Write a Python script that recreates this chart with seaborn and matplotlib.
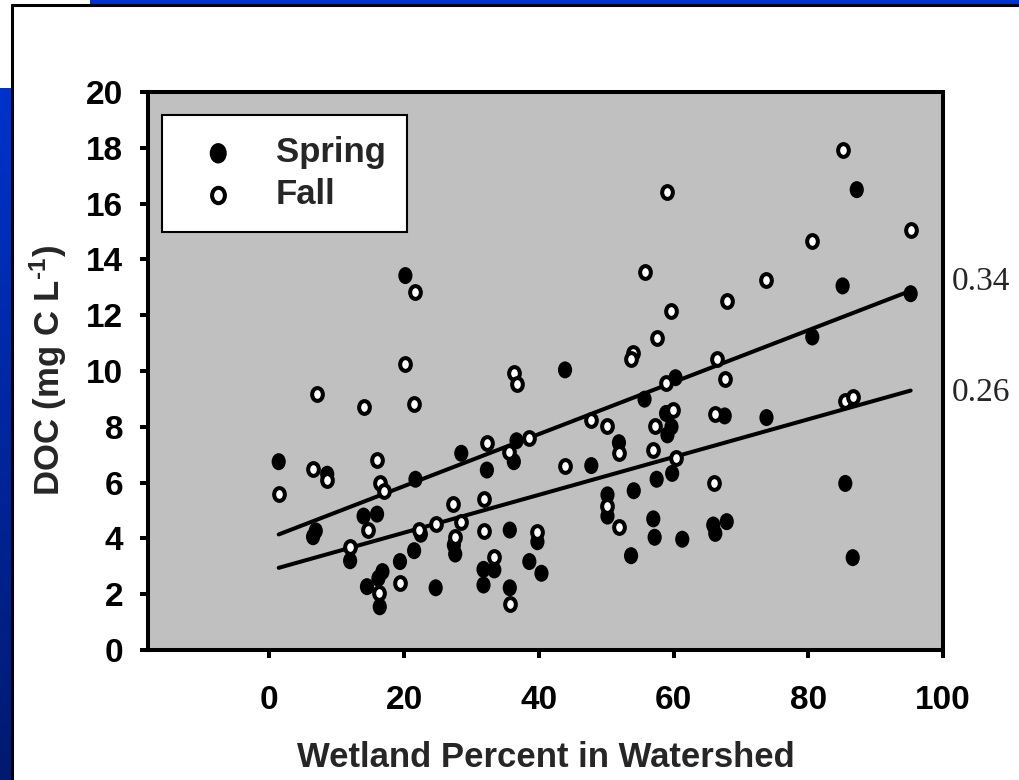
import numpy as np
import pandas as pd
import matplotlib
matplotlib.use("Agg")
import matplotlib.pyplot as plt
import seaborn as sns
from matplotlib.path import Path
from matplotlib.patches import Rectangle
from matplotlib.lines import Line2D
from matplotlib.colors import LinearSegmentedColormap

# ---------------- data ----------------
spring_x = [1.4, 8.6, 6.9, 6.5, 21.7, 14.0, 16.0, 12.0, 21.5, 19.4, 16.8, 16.2, 14.5, 16.4,
            20.2, 43.9, 60.3, 55.7, 58.9, 59.7, 59.1, 51.9, 57.5, 59.8, 47.8, 54.1, 50.2, 50.2,
            57.0, 57.2, 53.7, 61.3, 36.7, 36.3, 28.5, 32.3, 22.5, 27.4, 27.6, 35.7, 39.8, 31.8,
            33.4, 38.6, 40.4, 31.8, 24.7, 35.7, 87.2, 85.1, 95.2, 80.6, 67.6, 73.8, 85.5, 65.9,
            67.9, 66.2, 86.6]
spring_y = [6.75, 6.30, 4.27, 4.06, 6.12, 4.80, 4.87, 3.20, 3.56, 3.17, 2.81, 2.57, 2.27, 1.55,
            13.42, 10.04, 9.76, 8.99, 8.48, 8.00, 7.71, 7.43, 6.12, 6.33, 6.61, 5.71, 5.56, 4.80,
            4.70, 4.04, 3.38, 3.97, 7.50, 6.75, 7.05, 6.45, 4.15, 3.76, 3.44, 4.30, 3.88, 2.89,
            2.87, 3.17, 2.75, 2.33, 2.23, 2.23, 16.50, 13.05, 12.77, 11.22, 8.39, 8.33, 5.97, 4.48,
            4.60, 4.18, 3.31]

fall_x = [21.7, 20.2, 7.1, 14.0, 21.5, 1.4, 6.5, 8.6, 16.0, 16.4, 17.0, 14.6, 12.0, 22.2,
          19.4, 16.3, 59.1, 55.7, 59.7, 57.5, 54.0, 53.7, 36.3, 36.8, 58.9, 59.9, 57.3, 47.8,
          50.2, 51.9, 57.0, 60.3, 43.9, 50.2, 51.9, 38.6, 32.3, 35.6, 27.2, 31.8, 24.7, 28.5,
          27.6, 31.8, 39.8, 33.4, 35.7, 85.1, 95.2, 80.6, 73.8, 67.9, 66.5, 67.6, 66.2, 85.5,
          86.7, 66.0]
fall_y = [12.84, 10.25, 9.18, 8.72, 8.80, 5.59, 6.49, 6.09, 6.81, 5.97, 5.70, 4.30, 3.70, 4.30,
          2.39, 2.03, 16.43, 13.56, 12.15, 11.19, 10.66, 10.43, 9.92, 9.52, 9.56, 8.60, 8.04, 8.24,
          8.03, 7.07, 7.17, 6.89, 6.61, 5.16, 4.42, 7.61, 7.41, 7.11, 5.23, 5.40, 4.52, 4.60,
          4.06, 4.28, 4.24, 3.32, 1.65, 17.93, 15.06, 14.66, 13.27, 12.51, 10.42, 9.70, 8.46, 8.92,
          9.06, 5.97]

series_names = ["Spring", "Fall"]
r2_labels = ["0.34", "0.26"]
x_ticks = [0, 20, 40, 60, 80, 100]
y_ticks = list(range(0, 21, 2))
x_label = "Wetland Percent in Watershed"
y_label = r"DOC (mg C L$^{\text{-1}}$)"

spring = pd.DataFrame({"x": spring_x, "y": spring_y})
fall = pd.DataFrame({"x": fall_x, "y": fall_y})

# ---------------- style ----------------
sns.set_style("ticks")
plt.rcParams["font.family"] = ["Liberation Sans", "DejaVu Sans"]
plt.rcParams["font.weight"] = "bold"
plt.rcParams["mathtext.fontset"] = "custom"
plt.rcParams["mathtext.rm"] = "Liberation Sans:bold"
plt.rcParams["mathtext.bf"] = "Liberation Sans:bold"
plt.rcParams["mathtext.it"] = "Liberation Sans:bold"
plt.rcParams["mathtext.default"] = "bf"

W, H = 1019, 780
fig = plt.figure(figsize=(W / 100, H / 100), dpi=100)
fig.patch.set_facecolor("white")

# slide decorations
gax = fig.add_axes([0, 0, 12 / W, (H - 88) / H])
grad = np.linspace(0, 1, 256).reshape(-1, 1)
cmap = LinearSegmentedColormap.from_list("b", ["#0033CC", "#001A70"])
gax.imshow(grad, aspect="auto", cmap=cmap, origin="upper")
gax.axis("off")
fig.patches.append(Rectangle((90 / W, (H - 5) / H), (W - 90) / W, 5 / H,
                             transform=fig.transFigure, facecolor="#0033CC",
                             edgecolor="none"))
fig.add_artist(Line2D([12 / W, 12 / W], [0, (H - 5) / H], transform=fig.transFigure,
                      color="black", lw=2.2))
fig.add_artist(Line2D([12 / W, 1], [(H - 5) / H, (H - 5) / H], transform=fig.transFigure,
                      color="black", lw=2.2))

# main axes
ax = fig.add_axes([148 / W, 130 / H, 795 / W, 558 / H])
ax.set_facecolor("#C0C0C0")

circ = Path.unit_circle()
ell = Path(circ.vertices * np.array([1.0, 1.2]), circ.codes)

sns.scatterplot(data=spring, x="x", y="y", marker=ell, color="black", edgecolor="none",
                s=150, ax=ax, zorder=3, label=series_names[0])
sns.regplot(data=fall, x="x", y="y", scatter=False, ci=None, truncate=True, ax=ax,
            color="black", line_kws={"lw": 2.9, "zorder": 4, "solid_capstyle": "round"})
sns.regplot(data=spring, x="x", y="y", scatter=False, ci=None, truncate=True, ax=ax,
            color="black", line_kws={"lw": 2.9, "zorder": 4, "solid_capstyle": "round"})
sns.scatterplot(data=fall, x="x", y="y", marker=ell, color="white", edgecolor="black",
                linewidth=2.9, s=85, ax=ax, zorder=5, label=series_names[1])

ax.set_xlim(-18, 100)
ax.set_ylim(0, 20)
ax.set_xticks(x_ticks)
ax.set_yticks(y_ticks)
ax.tick_params(direction="out", length=6, width=2.9, labelsize=24, colors="black")
ax.tick_params(axis="y", pad=12)
ax.tick_params(axis="x", pad=19)
for lab in ax.get_xticklabels() + ax.get_yticklabels():
    lab.set_fontweight("bold")
for sp in ax.spines.values():
    sp.set_visible(True)
    sp.set_linewidth(2.9)
    sp.set_color("black")

ax.set_xlabel(x_label, fontsize=25, fontweight="bold", labelpad=18)
ax.set_ylabel(y_label, fontsize=25, fontweight="bold", labelpad=12)

leg = ax.legend(loc="upper left", bbox_to_anchor=(0.0176, 0.959), borderaxespad=0,
                frameon=True, fancybox=False, edgecolor="black", framealpha=1,
                facecolor="white", borderpad=0.62, handletextpad=0.66, labelspacing=0.24,
                handlelength=2.0, scatterpoints=1, markerscale=1.2,
                prop={"weight": "bold", "size": 25})
leg.get_frame().set_linewidth(1.5)

ax.text(1.011, 0.6595, r2_labels[0], transform=ax.transAxes, va="center", ha="left",
        fontsize=24, fontweight="normal", family="Liberation Serif")
ax.text(1.011, 0.4606, r2_labels[1], transform=ax.transAxes, va="center", ha="left",
        fontsize=24, fontweight="normal", family="Liberation Serif")

fig.savefig("out.png", dpi=100)
